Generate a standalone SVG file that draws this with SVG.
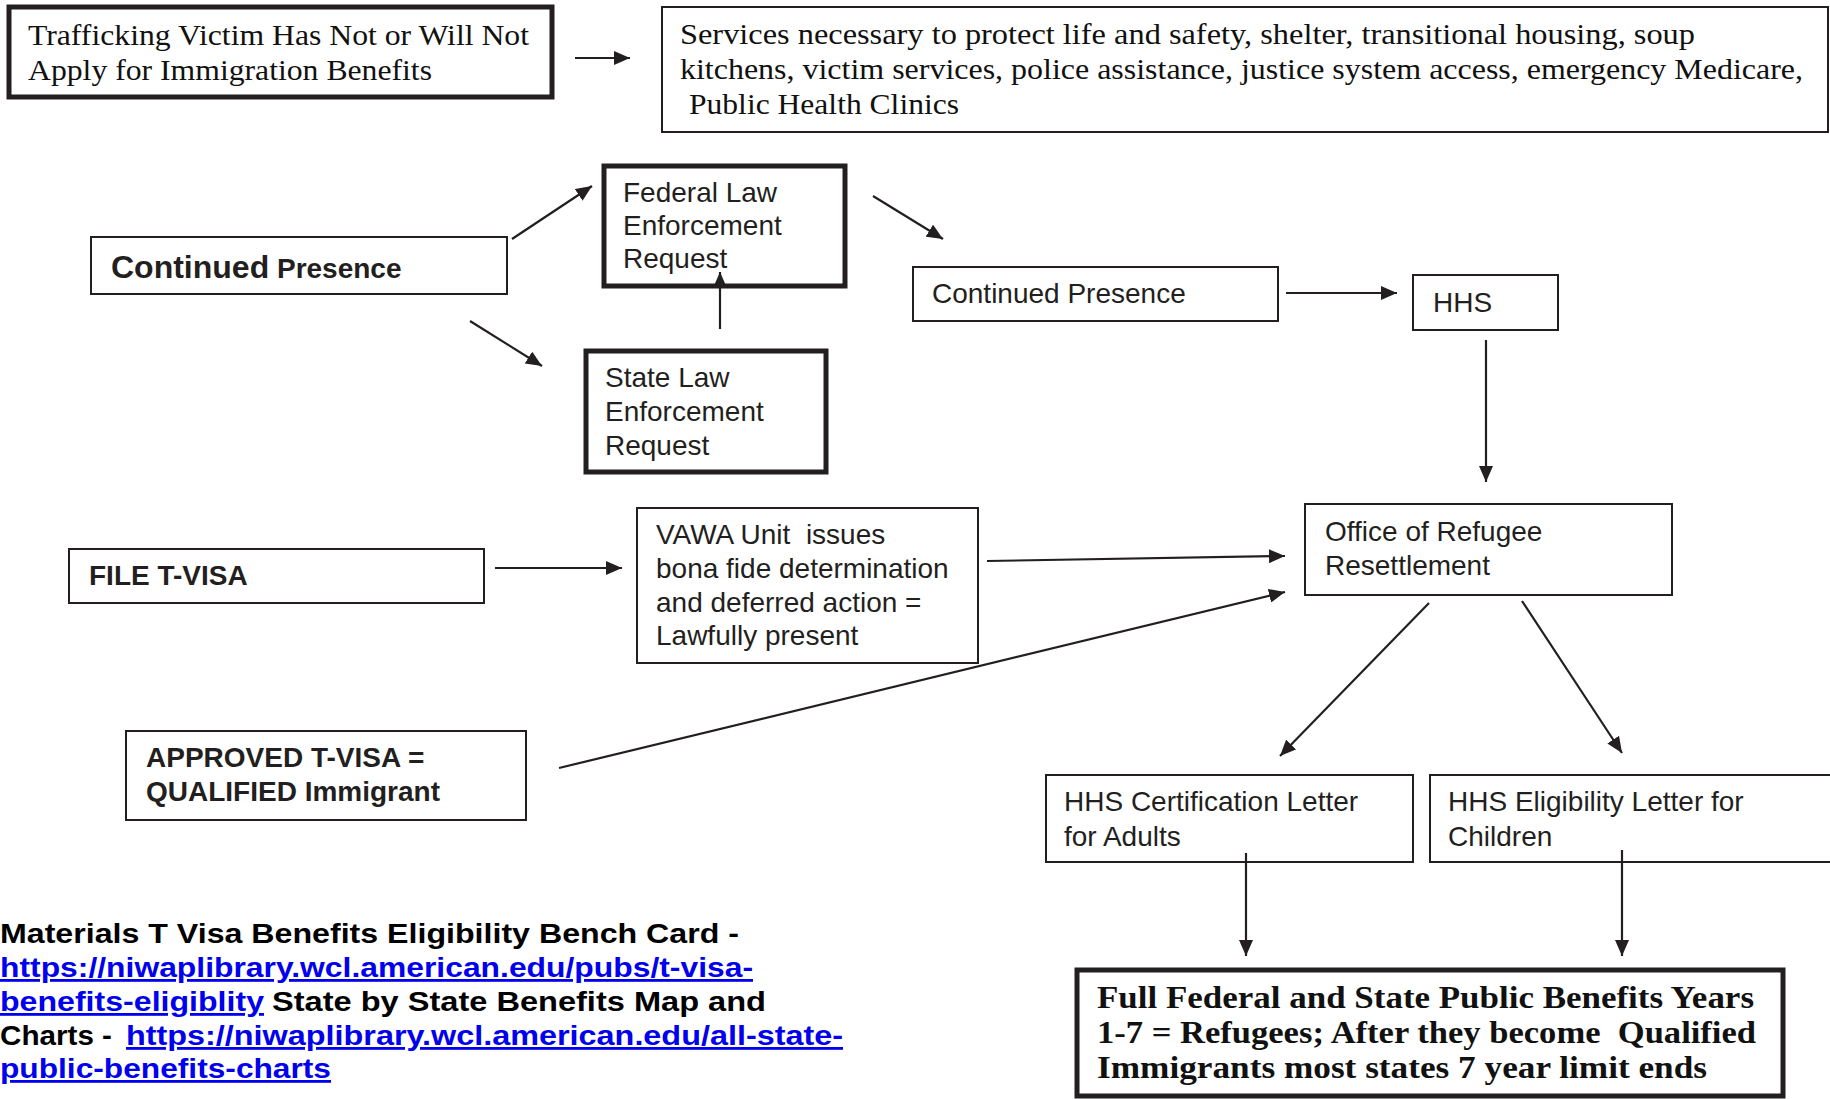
<svg xmlns="http://www.w3.org/2000/svg" width="1830" height="1099" viewBox="0 0 1830 1099">
<style>
.box{fill:#fff;stroke:#231f20;stroke-width:2}
.thick{fill:#fff;stroke:#231f20;stroke-width:5}
.serif{font-family:"Liberation Serif","Times New Roman",serif;fill:#111;font-size:30px}
.serifb{font-family:"Liberation Serif","Times New Roman",serif;fill:#111;font-size:31px;font-weight:bold}
.sans{font-family:"Liberation Sans",Arial,sans-serif;fill:#231f20;font-size:28px}
.sansb{font-family:"Liberation Sans",Arial,sans-serif;fill:#231f20;font-size:28px;font-weight:bold}
.note{font-family:"Liberation Sans",Arial,sans-serif;fill:#000;font-size:28px;font-weight:bold}
.link{fill:#0000ee;text-decoration:underline}
.pre{white-space:pre}
.conn line{stroke:#231f20;stroke-width:2.2;marker-end:url(#ah)}
</style>
<defs>
<marker id="ah" markerUnits="userSpaceOnUse" markerWidth="16" markerHeight="14" viewBox="0 0 16 14" refX="16" refY="7" orient="auto">
<path d="M0,0 L16,7 L0,14 z" fill="#231f20"/>
</marker>
</defs>
<rect width="1830" height="1099" fill="#fff"/>

<g id="n-trafficking">
<rect class="thick" x="9" y="7" width="543" height="90"/>
<text class="serif" x="28" y="45" textLength="501" lengthAdjust="spacingAndGlyphs">Trafficking Victim Has Not or Will Not</text>
<text class="serif" x="28" y="80" textLength="404" lengthAdjust="spacingAndGlyphs">Apply for Immigration Benefits</text>
</g>

<g id="n-services">
<rect class="box" x="662" y="7" width="1166" height="125"/>
<text class="serif" x="680" y="44" textLength="1015" lengthAdjust="spacingAndGlyphs">Services necessary to protect life and safety, shelter, transitional housing, soup</text>
<text class="serif" x="680" y="79" textLength="1123" lengthAdjust="spacingAndGlyphs">kitchens, victim services, police assistance, justice system access, emergency Medicare,</text>
<text class="serif" x="689" y="114" textLength="270" lengthAdjust="spacingAndGlyphs">Public Health Clinics</text>
</g>

<g id="n-cp-left">
<rect class="box" x="91" y="237" width="416" height="57"/>
<text class="sansb" x="111" y="278"><tspan font-size="32">Continued</tspan> Presence</text>
</g>

<g id="n-federal">
<rect class="thick" x="604" y="166" width="241" height="120"/>
<text class="sans" x="623" y="202">Federal Law</text>
<text class="sans" x="623" y="235">Enforcement</text>
<text class="sans" x="623" y="268">Request</text>
</g>

<g id="n-state">
<rect class="thick" x="586" y="351" width="240" height="121"/>
<text class="sans" x="605" y="387">State Law</text>
<text class="sans" x="605" y="421">Enforcement</text>
<text class="sans" x="605" y="455">Request</text>
</g>

<g id="n-cp-mid">
<rect class="box" x="913" y="267" width="365" height="54"/>
<text class="sans" x="932" y="303">Continued Presence</text>
</g>

<g id="n-hhs">
<rect class="box" x="1413" y="275" width="145" height="55"/>
<text class="sans" x="1433" y="312">HHS</text>
</g>

<g id="n-orr">
<rect class="box" x="1305" y="504" width="367" height="91"/>
<text class="sans" x="1325" y="541">Office of Refugee</text>
<text class="sans" x="1325" y="575">Resettlement</text>
</g>

<g id="n-file">
<rect class="box" x="69" y="549" width="415" height="54"/>
<text class="sansb" x="89" y="585">FILE T-VISA</text>
</g>

<g id="n-vawa">
<rect class="box" x="637" y="508" width="341" height="155"/>
<text class="sans pre" x="656" y="544">VAWA Unit  issues</text>
<text class="sans" x="656" y="578">bona fide determination</text>
<text class="sans" x="656" y="612">and deferred action =</text>
<text class="sans" x="656" y="645">Lawfully present</text>
</g>

<g id="n-approved">
<rect class="box" x="126" y="731" width="400" height="89"/>
<text class="sansb" x="146" y="767">APPROVED T-VISA =</text>
<text class="sansb" x="146" y="801">QUALIFIED Immigrant</text>
</g>

<g id="n-cert">
<rect class="box" x="1046" y="775" width="367" height="87"/>
<text class="sans" x="1064" y="811">HHS Certification Letter</text>
<text class="sans" x="1064" y="846">for Adults</text>
</g>

<g id="n-elig">
<rect class="box" x="1430" y="775" width="410" height="87"/>
<text class="sans" x="1448" y="811">HHS Eligibility Letter for</text>
<text class="sans" x="1448" y="846">Children</text>
</g>

<g id="n-final">
<rect class="thick" x="1077" y="970" width="706" height="126"/>
<text class="serifb" x="1097" y="1008" textLength="657" lengthAdjust="spacingAndGlyphs">Full Federal and State Public Benefits Years</text>
<text class="serifb pre" x="1097" y="1043" textLength="659" lengthAdjust="spacingAndGlyphs">1-7 = Refugees; After they become  Qualified</text>
<text class="serifb" x="1097" y="1078" textLength="610" lengthAdjust="spacingAndGlyphs">Immigrants most states 7 year limit ends</text>
</g>

<g id="n-materials">
<text class="note" x="0" y="943" textLength="739" lengthAdjust="spacingAndGlyphs">Materials T Visa Benefits Eligibility Bench Card -</text>
<text class="note link" x="0" y="977" textLength="753" lengthAdjust="spacingAndGlyphs">https://niwaplibrary.wcl.american.edu/pubs/t-visa-</text>
<text class="note link" x="0" y="1011" textLength="264" lengthAdjust="spacingAndGlyphs">benefits-eligiblity</text>
<text class="note" x="272" y="1011" textLength="494" lengthAdjust="spacingAndGlyphs">State by State Benefits Map and</text>
<text class="note" x="0" y="1045" textLength="112" lengthAdjust="spacingAndGlyphs">Charts -</text>
<text class="note link" x="126" y="1045" textLength="717" lengthAdjust="spacingAndGlyphs">https://niwaplibrary.wcl.american.edu/all-state-</text>
<text class="note link" x="0" y="1078" textLength="331" lengthAdjust="spacingAndGlyphs">public-benefits-charts</text>
</g>

<g class="conn" id="connectors">
<line x1="575" y1="58" x2="630" y2="58"/>
<line x1="512" y1="239" x2="592" y2="186"/>
<line x1="470" y1="321" x2="542" y2="366"/>
<line x1="720" y1="329" x2="720" y2="272"/>
<line x1="873" y1="196" x2="943" y2="239"/>
<line x1="1286" y1="293" x2="1397" y2="293"/>
<line x1="1486" y1="340" x2="1486" y2="482"/>
<line x1="495" y1="568" x2="622" y2="568"/>
<line x1="987" y1="561" x2="1285" y2="556"/>
<line x1="559" y1="768" x2="1285" y2="592"/>
<line x1="1429" y1="603" x2="1280" y2="756"/>
<line x1="1522" y1="601" x2="1622" y2="753"/>
<line x1="1246" y1="853" x2="1246" y2="956"/>
<line x1="1622" y1="850" x2="1622" y2="956"/>
</g>
</svg>
